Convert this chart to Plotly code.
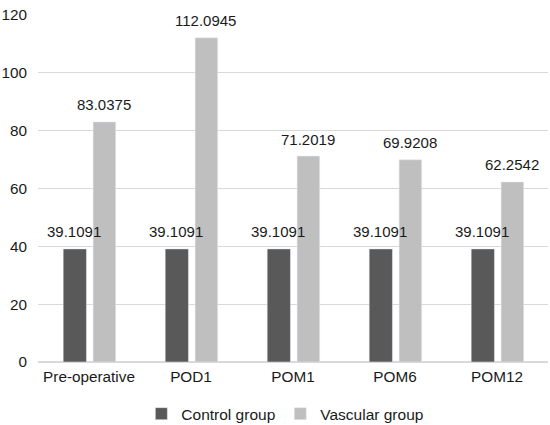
import plotly.graph_objects as go

categories = ["Pre-operative", "POD1", "POM1", "POM6", "POM12"]
control = [39.1091, 39.1091, 39.1091, 39.1091, 39.1091]
vascular = [83.0375, 112.0945, 71.2019, 69.9208, 62.2542]
control_labels = ["39.1091"] * 5
vascular_labels = ["83.0375", "112.0945", "71.2019", "69.9208", "62.2542"]

font = dict(family="Liberation Sans, Arial, sans-serif", size=15.3, color="#1a1a1a")
label_font = dict(family="Liberation Sans, Arial, sans-serif", size=15, color="#1a1a1a")

fig = go.Figure()
fig.add_trace(go.Bar(name="Control group", x=categories, y=control,
                     marker_color="#595959", width=0.228, offset=-0.253))
fig.add_trace(go.Bar(name="Vascular group", x=categories, y=vascular,
                     marker_color="#bfbfbf", width=0.222, offset=0.04))

# data labels (drawn on top of bars, as in the reference)
for vals, labs, dx in ((control, control_labels, -14.7), (vascular, vascular_labels, 14.8)):
    for c, v, t in zip(categories, vals, labs):
        fig.add_annotation(x=c, y=v, text=t, showarrow=False, xshift=dx, yshift=17,
                           yanchor="middle", font=label_font)

fig.update_layout(
    width=550, height=425,
    margin=dict(l=38, r=2, t=15, b=63, autoexpand=False),
    paper_bgcolor="white", plot_bgcolor="white",
    font=font,
    barmode="overlay",
    showlegend=True,
    legend=dict(orientation="h", x=0.485, xanchor="center", y=-0.15, yanchor="middle",
                font=dict(family="Liberation Sans, Arial, sans-serif", size=15.5, color="#1a1a1a"),
                itemwidth=30, traceorder="normal"),
    xaxis=dict(showline=False, ticks="", tickfont=font, automargin=False,
               range=[-0.5, 4.5], ticklabelstandoff=4),
    yaxis=dict(range=[0, 120], dtick=20, showgrid=True, gridcolor="#d9d9d9",
               zeroline=True, zerolinecolor="#d9d9d9", ticks="", tickfont=font,
               automargin=False, ticklabelstandoff=10),
)

fig.write_html("out.html", config={"displayModeBar": False},
               post_script="document.body.style.margin='0';")
